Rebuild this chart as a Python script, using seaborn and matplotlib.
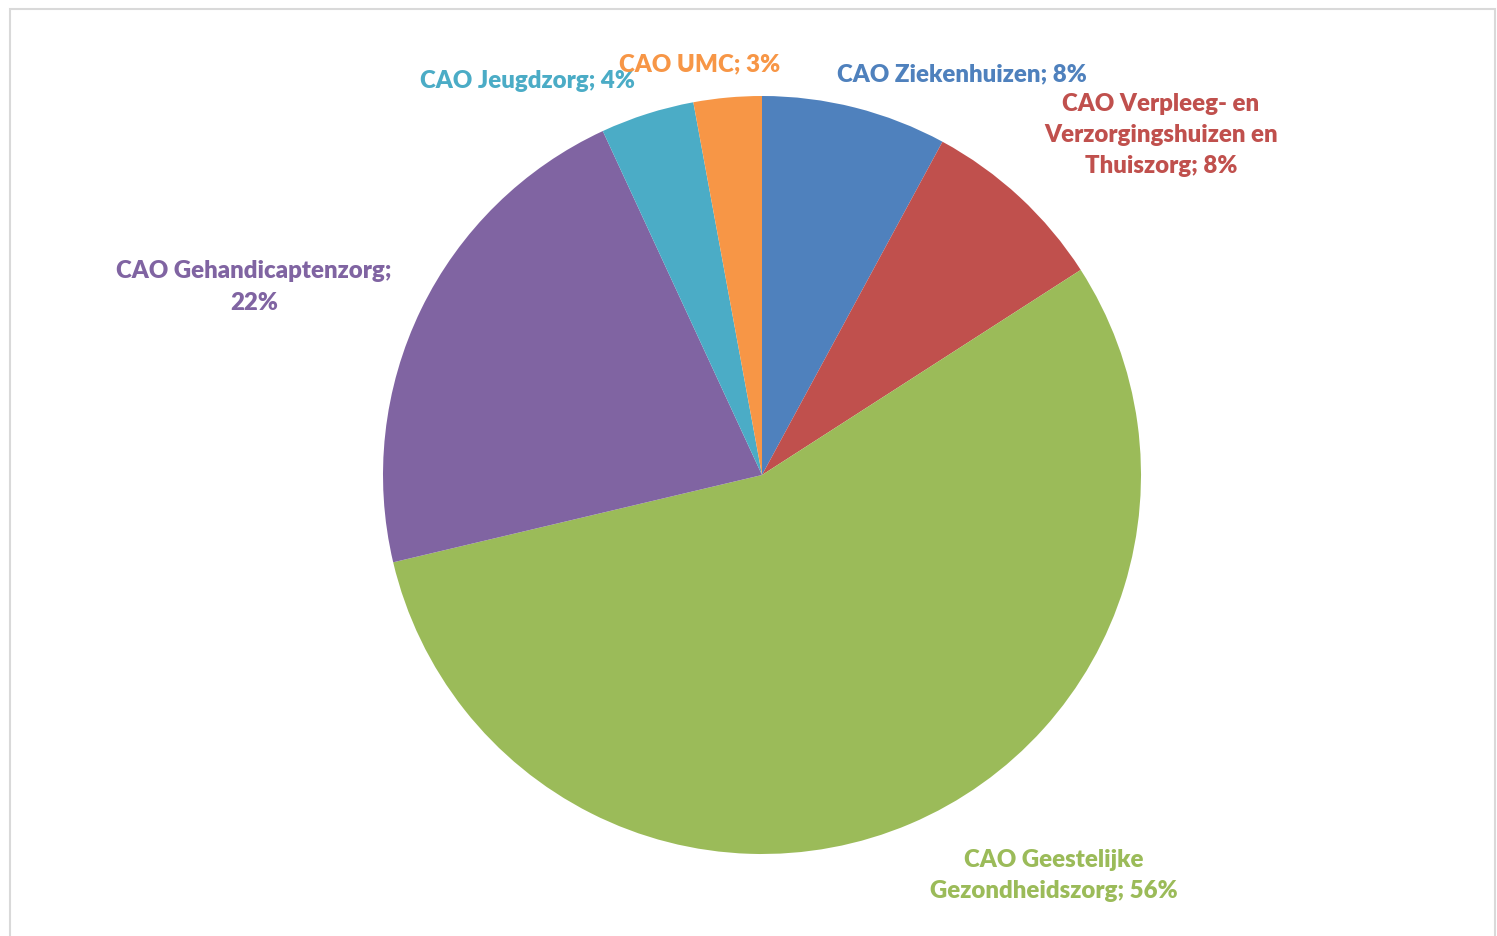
import matplotlib
matplotlib.use("Agg")
import matplotlib.pyplot as plt
import seaborn as sns

# shares (%), clockwise from the top
segments = ["CAO Ziekenhuizen", "CAO Verpleeg- en Verzorgingshuizen en Thuiszorg",
            "CAO Geestelijke Gezondheidszorg", "CAO Gehandicaptenzorg",
            "CAO Jeugdzorg", "CAO UMC"]
shares = [7.9, 8.0, 55.4, 21.8, 4.0, 2.9]
pct_labels = [8, 8, 56, 22, 4, 3]
label_text = ["CAO Ziekenhuizen; {}%",
              "CAO Verpleeg- en\nVerzorgingshuizen en\nThuiszorg; {}%",
              "CAO Geestelijke\nGezondheidszorg; {}%",
              "CAO Gehandicaptenzorg;\n{}%",
              "CAO Jeugdzorg; {}%",
              "CAO UMC; {}%"]
colors = ["#4F81BD", "#C0504D", "#9BBB59", "#8064A2", "#4BACC6", "#F79646"]

# label centres in pixels of the 1497x937 canvas
label_pos = [(962, 74), (1161, 135), (1054, 876), (254, 287), (528, 81), (700, 64)]

sns.set_style("white")
plt.rcParams["font.family"] = ["Lato", "DejaVu Sans"]

W, H = 1497, 937
fig = plt.figure(figsize=(W / 100, H / 100), dpi=100)

# light grey frame of the chart area
frame = plt.Rectangle((10 / W, -0.01), (1495 - 10) / W, (H - 10) / H + 0.01,
                      transform=fig.transFigure, fill=False,
                      edgecolor="#D9D9D9", linewidth=1.5)
fig.patches.append(frame)

cx, cy, r = 762, 476, 379
ax = fig.add_axes([(cx - r) / W, (H - cy - r) / H, 2 * r / W, 2 * r / H])
ax.pie(shares, colors=colors, startangle=90, counterclock=False,
       radius=1, wedgeprops=dict(linewidth=0))
ax.set_xlim(-1, 1)
ax.set_ylim(-1, 1)
ax.set_aspect("equal")
ax.axis("off")

for txt, p, col, (x, y) in zip(label_text, pct_labels, colors, label_pos):
    fig.text(x / W, 1 - y / H, txt.format(p), color=col, fontsize=17.3,
             fontweight="heavy", ha="center", va="center", linespacing=1.5)

fig.savefig("out.png", dpi=100)
